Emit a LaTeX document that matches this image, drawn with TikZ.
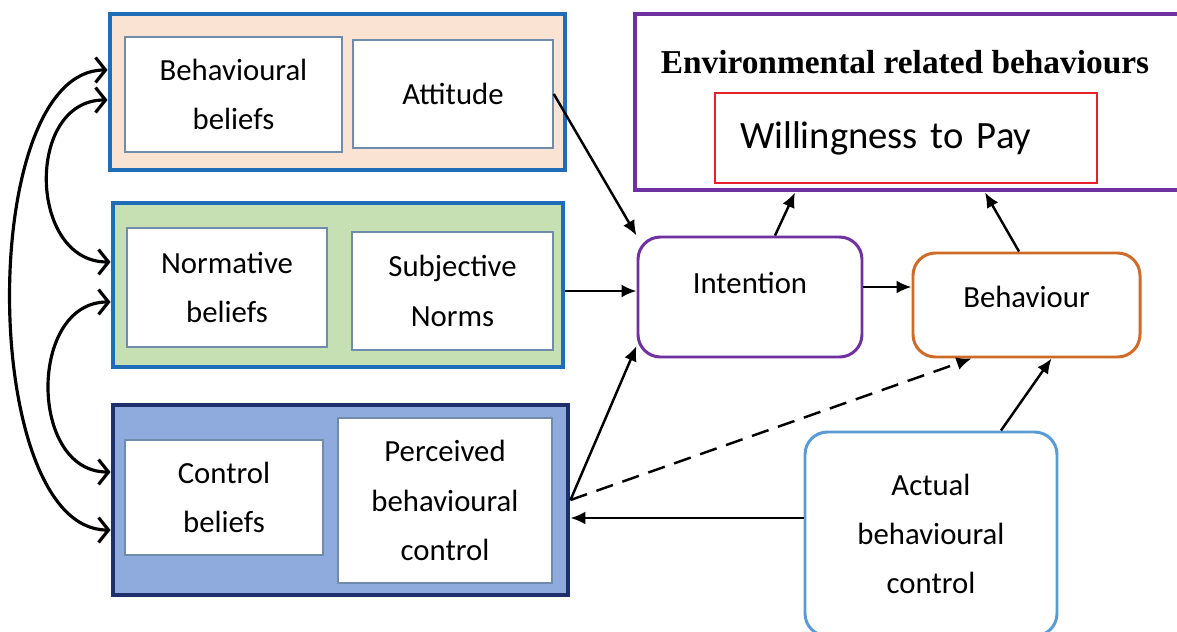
\documentclass[tikz,border=0pt]{standalone}
\usepackage{fontspec}
\setmainfont{Carlito}
\newfontfamily\titlefont{Liberation Serif}
\usetikzlibrary{arrows.meta}

\definecolor{frameblue}{HTML}{1F6DB8}
\definecolor{peachfill}{HTML}{FBE3D4}
\definecolor{greenfill}{HTML}{C6E0B4}
\definecolor{ctrlfill}{HTML}{8FAADC}
\definecolor{navy}{HTML}{1F2F6B}
\definecolor{innerline}{HTML}{6F8CAD}
\definecolor{envpurple}{HTML}{7030A0}
\definecolor{wtpred}{HTML}{E8202A}
\definecolor{behorange}{HTML}{D06A28}
\definecolor{actblue}{HTML}{5B9BD5}

\begin{document}
\begin{tikzpicture}[
  lbl/.style={font=\fontsize{17.5}{28}\selectfont, align=center},
  grp/.style={draw=frameblue, line width=2.8pt, inner sep=0pt},
  inbox/.style={draw=innerline, fill=white, line width=0.9pt, inner sep=0pt, lbl},
  rbox/.style={rounded corners=0.45cm, fill=white, line width=1.7pt, inner sep=0pt, lbl},
  arr/.style={-{Latex[length=0.3cm,width=0.26cm]}, line width=1.4pt},
  biarr/.style={{Straight Barb[length=0.2cm,width=0.5cm]}-{Straight Barb[length=0.2cm,width=0.5cm]}, line width=1.8pt}
]
\useasboundingbox (0,0) rectangle (23.54,-12.64);

% belief groups
\begin{scope}[every node/.style={grp}]
  \node[fill=peachfill, minimum width=9.1cm, minimum height=3.12cm] (behgrp) at (6.75,-1.84) {};
  \node[fill=greenfill, minimum width=9.0cm, minimum height=3.28cm] (normgrp) at (6.76,-5.70) {};
  \node[fill=ctrlfill, draw=navy, minimum width=9.1cm, minimum height=3.8cm] (ctrlgrp) at (6.81,-10.0) {};
\end{scope}

\begin{scope}[every node/.style={inbox}]
  \node[minimum width=4.34cm, minimum height=2.3cm] (bb) at (4.67,-1.89) {Behavioural\\beliefs};
  \node[minimum width=4.0cm, minimum height=2.16cm] (att) at (9.06,-1.88) {Attitude};
  \node[minimum width=4.0cm, minimum height=2.38cm] (nb) at (4.54,-5.75) {Normative\\beliefs};
  \node[minimum width=4.02cm, minimum height=2.36cm] (sn) at (9.05,-5.82) {Subjective\\Norms};
  \node[minimum width=3.96cm, minimum height=2.3cm] (cb) at (4.48,-9.95) {Control\\beliefs};
  \node[minimum width=4.28cm, minimum height=3.3cm] (pbc) at (8.9,-10.01) {Perceived\\behavioural\\control};
\end{scope}

% outcome side
\node[draw=envpurple, line width=2.8pt, fill=white, minimum width=11.0cm, minimum height=3.52cm] (env) at (18.2,-2.04) {};
\node[font=\titlefont\bfseries\fontsize{19}{22}\selectfont] (envtitle) at (18.1,-1.24) {Environmental related behaviours};
\node[draw=wtpred, line width=1.7pt, inner sep=0pt, minimum width=7.64cm, minimum height=1.8cm,
      text width=6.64cm, align=left, font=\fontsize{22}{26}\selectfont] (wtp) at (18.12,-2.76) {Willingness to Pay};

\begin{scope}[every node/.style={rbox}]
  \node[draw=envpurple, minimum width=4.48cm, minimum height=2.4cm, text depth=0.56cm] (int) at (15.0,-5.94) {Intention};
  \node[draw=behorange, minimum width=4.54cm, minimum height=2.08cm, text depth=0.32cm] (beh) at (20.53,-6.1) {Behaviour};
  \node[draw=actblue, minimum width=5.04cm, minimum height=4.08cm] (act) at (18.62,-10.68) {Actual\\behavioural\\control};
\end{scope}

% curve ends on the group frames
\coordinate (b1) at ([yshift=0.44cm]behgrp.west);
\coordinate (b2) at ([yshift=-0.16cm]behgrp.west);
\coordinate (n1) at ([yshift=0.46cm]normgrp.west);
\coordinate (n2) at ([yshift=-0.34cm]normgrp.west);
\coordinate (k1) at ([yshift=0.56cm]ctrlgrp.west);
\coordinate (k2) at ([yshift=-0.6cm]ctrlgrp.west);

\begin{scope}[every edge/.style={draw,biarr}]
  \path (b1) edge[out=180,in=180,looseness=0.73] (k2);
  \path (b2) edge[out=180,in=180,looseness=1.3] (n1);
  \path (n2) edge[out=180,in=180,looseness=1.24] (k1);
\end{scope}

\begin{scope}[every edge/.style={draw,arr}]
  \path (att.east) edge (int.north west);
  \path (sn.east -| normgrp.east) edge (sn.east -| int.west);
  \path (ctrlgrp.east) edge ([yshift=0.25cm]int.south west);
  \path ([yshift=0.32cm]act.west) edge ([yshift=0.32cm]act.west -| ctrlgrp.east);
  \path ([xshift=1.4cm]act.north) edge ([xshift=0.5cm]beh.south);
  \path ([yshift=0.2cm]int.east) edge ([yshift=0.2cm]int.east -| beh.west);
  \path ([xshift=0.5cm]int.north) edge ([xshift=-2.3cm]env.south);
  \path ([xshift=-0.15cm]beh.north) edge ([xshift=1.5cm]env.south);
\end{scope}

\begin{scope}[every edge/.style={draw,arr,dash pattern=on 0.35cm off 0.2cm}]
  \path (ctrlgrp.east) edge ([xshift=-1.1cm]beh.south);
\end{scope}

\end{tikzpicture}
\end{document}
